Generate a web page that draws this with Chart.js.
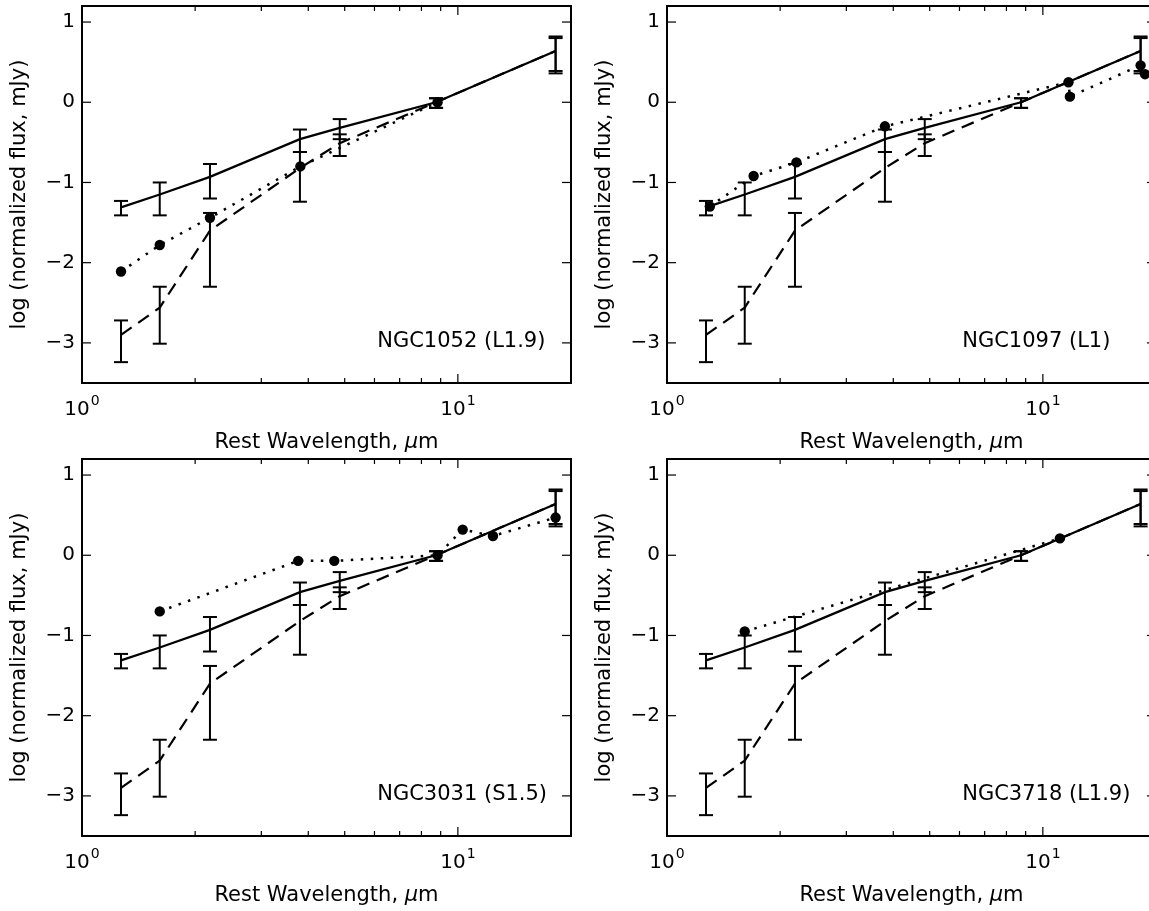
<!DOCTYPE html>
<html>
<head>
<meta charset="utf-8">
<title>SED NGC</title>
<script src="https://cdn.jsdelivr.net/npm/chart.js@4.4.0/dist/chart.umd.min.js"></script>
<style>
    html, body { margin: 0; padding: 0; background: #fff; overflow: hidden; width: 1149px; height: 911px; }
    .panel { position: absolute; }
</style>
</head>
<body>
<div class="panel" style="left:0px;top:0px"><canvas id="c1" width="580" height="455"></canvas></div>
<div class="panel" style="left:585px;top:0px"><canvas id="c2" width="580" height="455"></canvas></div>
<div class="panel" style="left:0px;top:453px"><canvas id="c3" width="580" height="455"></canvas></div>
<div class="panel" style="left:585px;top:453px"><canvas id="c4" width="580" height="455"></canvas></div>
<script>
// Longitudes de onda de las plantillas (micras, en reposo)
const templateWave = [1.27, 1.61, 2.19, 3.80, 4.85, 8.75, 18.2];

// Plantilla continua con sus barras de error
const solidFlux = [-1.31, -1.15, -0.93, -0.46, -0.32, 0.00, 0.64];
const solidLow  = [-1.41, -1.41, -1.20, -0.62, -0.46, -0.07, 0.36];
const solidHigh = [-1.23, -1.00, -0.77, -0.34, -0.21, 0.05, 0.82];

// Plantilla discontinua con sus barras de error
const dashedFlux = [-2.90, -2.56, -1.60, -0.82, -0.51, 0.00, 0.64];
const dashedLow  = [-3.24, -3.01, -2.30, -1.24, -0.67, -0.07, 0.39];
const dashedHigh = [-2.72, -2.30, -1.38, -0.62, -0.40, 0.05, 0.80];

// Datos de cada galaxia
const ngc1052Wave = [1.27, 1.61, 2.19, 3.81, 8.83];
const ngc1052Flux = [-2.11, -1.78, -1.44, -0.80, 0.00];
const ngc1097Wave = [1.30, 1.70, 2.21, 3.80, 11.7, 11.8, 18.2, 18.7];
const ngc1097Flux = [-1.30, -0.92, -0.75, -0.30, 0.25, 0.07, 0.46, 0.35];
const ngc3031Wave = [1.61, 3.76, 4.69, 8.83, 10.3, 12.4, 18.2];
const ngc3031Flux = [-0.70, -0.07, -0.07, 0.00, 0.32, 0.24, 0.47];
const ngc3718Wave = [1.61, 11.1];
const ngc3718Flux = [-0.95, 0.21];

// Marcas de los ejes
const yTicks = [-3, -2, -1, 0, 1];
const xMajorTicks = [1, 10];
const xMinorTicks = [2, 3, 4, 5, 6, 7, 8, 9, 20];
const xTickLabels = [['10', '0'], ['10', '1']];

const FONT = '"DejaVu Sans", "Liberation Sans", sans-serif';

// Paneles
const panels = [
    { id: 'c1', label: 'NGC1052 (L1.9)', wave: ngc1052Wave, flux: ngc1052Flux },
    { id: 'c2', label: 'NGC1097 (L1)', wave: ngc1097Wave, flux: ngc1097Flux },
    { id: 'c3', label: 'NGC3031 (S1.5)', wave: ngc3031Wave, flux: ngc3031Flux },
    { id: 'c4', label: 'NGC3718 (L1.9)', wave: ngc3718Wave, flux: ngc3718Flux }
];

function toPoints(xs, ys) {
    return xs.map((x, i) => ({ x: x, y: ys[i] }));
}

function formatMinus(v) {
    return v < 0 ? '\u2212' + Math.abs(v) : String(v);
}

function zeroPadding(scale) {
    scale.paddingTop = 0;
    scale.paddingBottom = 0;
    scale.paddingLeft = 0;
    scale.paddingRight = 0;
}

function line(ctx, x1, y1, x2, y2) {
    ctx.beginPath();
    ctx.moveTo(x1, y1);
    ctx.lineTo(x2, y2);
    ctx.stroke();
}

// Dibujar barras de error de una plantilla
function drawErrorBars(ctx, xs, ys, wave, low, high) {
    wave.forEach((w, i) => {
        const px = xs.getPixelForValue(w);
        const pLo = ys.getPixelForValue(low[i]);
        const pHi = ys.getPixelForValue(high[i]);
        line(ctx, px, pLo, px, pHi);
        line(ctx, px - 7, pLo, px + 7, pLo);
        line(ctx, px - 7, pHi, px + 7, pHi);
    });
}

// Plugin: barras de error, marco, marcas y textos
function framePlugin(label) {
    return {
        id: 'marco',
        afterDatasetsDraw(chart) {
            const { ctx, chartArea: a, scales: { x, y } } = chart;
            ctx.save();
            ctx.strokeStyle = '#000';
            ctx.fillStyle = '#000';
            ctx.lineCap = 'butt';

            ctx.lineWidth = 2;
            drawErrorBars(ctx, x, y, templateWave, solidLow, solidHigh);
            drawErrorBars(ctx, x, y, templateWave, dashedLow, dashedHigh);

            // Marco
            ctx.strokeRect(a.left, a.top, a.right - a.left, a.bottom - a.top);

            // Marcas hacia dentro
            ctx.lineWidth = 1.2;
            xMajorTicks.forEach(v => {
                const px = x.getPixelForValue(v);
                line(ctx, px, a.bottom, px, a.bottom - 9);
                line(ctx, px, a.top, px, a.top + 9);
            });
            xMinorTicks.forEach(v => {
                const px = x.getPixelForValue(v);
                line(ctx, px, a.bottom, px, a.bottom - 5);
                line(ctx, px, a.top, px, a.top + 5);
            });
            yTicks.forEach(v => {
                const py = y.getPixelForValue(v);
                line(ctx, a.left, py, a.left + 9, py);
                line(ctx, a.right, py, a.right - 9, py);
            });

            // Etiquetas del eje x (potencias de diez)
            ctx.textBaseline = 'alphabetic';
            ctx.textAlign = 'left';
            xMajorTicks.forEach((v, i) => {
                const px = x.getPixelForValue(v);
                const base = xTickLabels[i][0];
                const exp = xTickLabels[i][1];
                ctx.font = '20px ' + FONT;
                const wb = ctx.measureText(base).width;
                ctx.font = '14px ' + FONT;
                const we = ctx.measureText(exp).width;
                const x0 = px - (wb + we + 1) / 2;
                ctx.font = '20px ' + FONT;
                ctx.fillText(base, x0, a.bottom + 32);
                ctx.font = '14px ' + FONT;
                ctx.fillText(exp, x0 + wb + 1, a.bottom + 22);
            });

            // Titulo del eje x
            const t1 = 'Rest Wavelength, ';
            const t2 = '\u03bc';
            const t3 = 'm';
            ctx.font = '21px ' + FONT;
            const w1 = ctx.measureText(t1).width;
            const w3 = ctx.measureText(t3).width;
            ctx.font = 'italic 21px ' + FONT;
            const w2 = ctx.measureText(t2).width;
            let tx = (a.left + a.right) / 2 - (w1 + w2 + w3) / 2;
            const ty = a.bottom + 65;
            ctx.font = '21px ' + FONT;
            ctx.fillText(t1, tx, ty);
            tx += w1;
            ctx.font = 'italic 21px ' + FONT;
            ctx.fillText(t2, tx, ty);
            tx += w2;
            ctx.font = '21px ' + FONT;
            ctx.fillText(t3, tx, ty);

            // Titulo del eje y
            ctx.save();
            ctx.translate(25, (a.top + a.bottom) / 2);
            ctx.rotate(-Math.PI / 2);
            ctx.textAlign = 'center';
            ctx.font = '21px ' + FONT;
            ctx.fillText('log (normalized flux, mJy)', 0, 0);
            ctx.restore();

            // Nombre de la galaxia
            ctx.font = '21px ' + FONT;
            ctx.textAlign = 'left';
            ctx.textBaseline = 'middle';
            ctx.fillText(label, x.getPixelForValue(6.1), y.getPixelForValue(-3) - 1);

            ctx.restore();
        }
    };
}

// Crear un panel
function createPanel(panel) {
    const canvas = document.getElementById(panel.id);
    return new Chart(canvas, {
        type: 'line',
        data: {
            datasets: [
                {
                    data: toPoints(templateWave, solidFlux),
                    borderColor: '#000',
                    borderWidth: 2.2,
                    pointRadius: 0
                },
                {
                    data: toPoints(templateWave, dashedFlux),
                    borderColor: '#000',
                    borderWidth: 2.2,
                    borderDash: [13, 8],
                    pointRadius: 0
                },
                {
                    data: toPoints(panel.wave, panel.flux),
                    borderColor: '#000',
                    borderWidth: 2.5,
                    borderDash: [2.5, 7.5],
                    pointRadius: 5.2,
                    pointBorderWidth: 0,
                    pointBackgroundColor: '#000'
                }
            ]
        },
        options: {
            responsive: false,
            animation: false,
            events: [],
            layout: { padding: { top: 6, right: 9, left: 0, bottom: 0 } },
            plugins: {
                legend: { display: false },
                tooltip: { enabled: false }
            },
            scales: {
                x: {
                    type: 'logarithmic',
                    min: 1,
                    max: 20,
                    grid: { display: false, drawTicks: false },
                    border: { display: false },
                    ticks: { display: false },
                    afterFit: s => { s.height = 72; zeroPadding(s); }
                },
                y: {
                    type: 'linear',
                    min: -3.5,
                    max: 1.2,
                    grid: { display: false, drawTicks: false },
                    border: { display: false },
                    afterBuildTicks: s => { s.ticks = yTicks.map(v => ({ value: v })); },
                    ticks: {
                        padding: 7,
                        color: '#000',
                        font: { family: FONT, size: 20 },
                        callback: v => formatMinus(v)
                    },
                    afterFit: s => { s.width = 82; zeroPadding(s); }
                }
            }
        },
        plugins: [framePlugin(panel.label)]
    });
}

panels.forEach(createPanel);
</script>
</body>
</html>
